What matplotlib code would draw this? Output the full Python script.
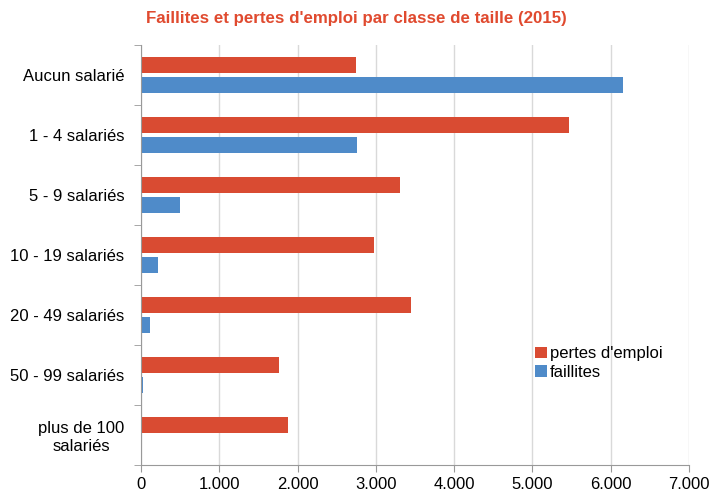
import numpy as np
import matplotlib.pyplot as plt

plt.rcParams['font.family'] = ['Liberation Sans', 'DejaVu Sans']

# Données (lecture du graphique)
categories = ['Aucun salarié', '1 - 4 salariés', '5 - 9 salariés', '10 - 19 salariés',
              '20 - 49 salariés', '50 - 99 salariés', 'plus de 100\nsalariés']
pertes_emploi = [2742, 5470, 3312, 2980, 3448, 1758, 1877]
faillites = [6152, 2759, 494, 217, 111, 22, 8]
xticks = [0, 1000, 2000, 3000, 4000, 5000, 6000, 7000]
xticklabels = ['0', '1.000', '2.000', '3.000', '4.000', '5.000', '6.000', '7.000']

rouge = '#D94B32'
bleu = '#4F8BC9'

fig = plt.figure(figsize=(7.13, 4.92), dpi=100)
ax = fig.add_axes([0.1978, 0.0549, 0.7685, 0.8536])

y = np.arange(len(categories))
h = 0.267
ax.barh(y - 0.163, pertes_emploi, height=h, color=rouge, label="pertes d'emploi")
ax.barh(y + 0.163, faillites, height=h, color=bleu, label='faillites')

ax.set_ylim(len(categories) - 0.5, -0.5)
ax.set_xlim(0, 7000)
ax.set_yticks(y)
ax.set_yticklabels(categories, fontsize=12, multialignment='center')
ax.set_yticks(np.arange(len(categories) + 1) - 0.5, minor=True)
ax.tick_params(axis='y', which='major', length=0, pad=12)
ax.tick_params(axis='y', which='minor', length=5, color='#999999')
ax.set_xticks(xticks)
ax.set_xticklabels(xticklabels, fontsize=12)
ax.tick_params(axis='x', length=5, color='#999999', pad=4)

ax.grid(axis='x', color='#d9d9d9', linewidth=1)
ax.set_axisbelow(True)
for s in ['top', 'right']:
    ax.spines[s].set_visible(False)
for s in ['left', 'bottom']:
    ax.spines[s].set_color('#999999')

fig.text(0.5, 0.963, "Faillites et pertes d'emploi par classe de taille (2015)",
         ha='center', va='center', color='#E04A2F', fontsize=12.2, fontweight='bold')

ax.legend(loc='upper left', bbox_to_anchor=(0.739, 0.313), bbox_transform=fig.transFigure,
          frameon=False, fontsize=12, handlelength=0.7, handleheight=0.7,
          handletextpad=0.2, labelspacing=0.2, borderpad=0)

plt.savefig('out.png', dpi=100)
